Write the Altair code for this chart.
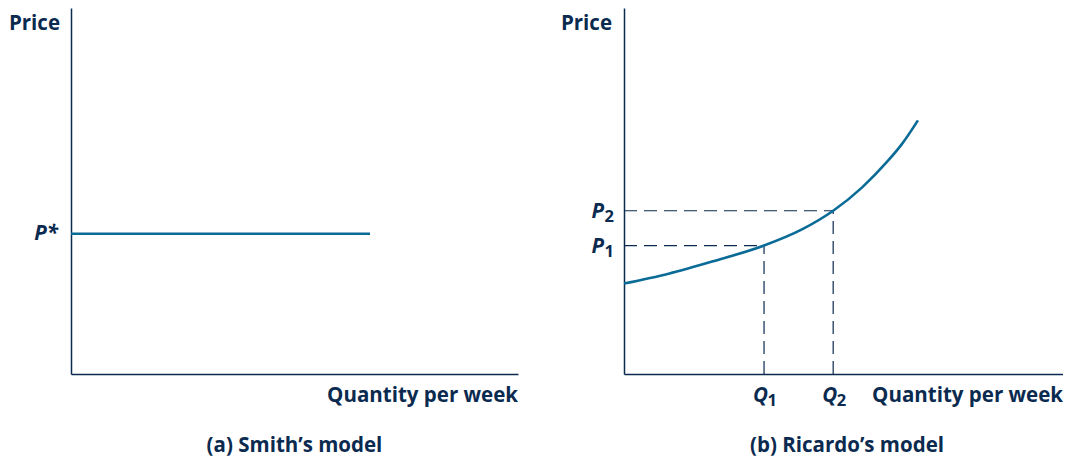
import altair as alt
import pandas as pd

# ---- data ----
smith_price = 38.3          # P*
smith_q_end = 66.9          # end of the horizontal supply line

ricardo_q = [0.0, 10.0, 20.0, 31.4, 39.9, 46.9, 53.4, 59.0, 62.3, 65.9]
ricardo_p = [24.7, 27.4, 30.8, 35.1, 39.5, 44.6, 51.0, 58.0, 62.8, 69.3]

q_points = [31.4, 46.9]     # Q1, Q2
p_points = [35.1, 44.6]     # P1, P2
subs = ["1", "2"]

axis_title_y = "Price"
axis_title_x = "Quantity per week"
panel_titles = ["(a) Smith\u2019s model", "(b) Ricardo\u2019s model"]

# ---- styling ----
TXT = "#0b2a4f"
CURVE = "#0a6b96"
FONT = "Open Sans"
FS = 20.5
SUBFS = 16.5
WL, WR, H = 447, 439, 366

ys = alt.Scale(domain=[0, 100], nice=False, zero=False)
AX = dict(labels=False, ticks=False, grid=False, title=None,
          domainColor=TXT, domainWidth=1.5)


def make_x(xmax):
    xs = alt.Scale(domain=[0, xmax], nice=False, zero=False)
    return xs, (lambda f: alt.X(f, type="quantitative", scale=xs, axis=alt.Axis(**AX)))


Y = lambda f: alt.Y(f, type="quantitative", scale=ys, axis=alt.Axis(**AX))


def txt(X, df, **kw):
    base = dict(font=FONT, fontSize=FS, fontWeight="bold", color=TXT)
    base.update(kw)
    return alt.Chart(df).mark_text(**base).encode(
        x=X("x"), y=Y("y"), text="t:N")


def common_labels(X, xmax, title, price_dx):
    price = txt(X, pd.DataFrame({"x": [0], "y": [100], "t": [axis_title_y]}),
                align="right", baseline="top", dx=price_dx, dy=6)
    qty = txt(X, pd.DataFrame({"x": [xmax], "y": [0], "t": [axis_title_x]}),
              align="right", baseline="alphabetic", dy=28)
    ttl = txt(X, pd.DataFrame({"x": [50], "y": [0], "t": [title]}),
              align="center", baseline="alphabetic", dy=78)
    return [price, qty, ttl]


# ---- panel (a) ----
xl_max = 100
xsl, XL = make_x(xl_max)
smith_df = pd.DataFrame({"x": [0, smith_q_end], "y": [smith_price, smith_price]})
smith_line = alt.Chart(smith_df).mark_line(color=CURVE, strokeWidth=2.6).encode(
    x=XL("x"), y=Y("y"))
pstar = txt(XL, pd.DataFrame({"x": [0], "y": [smith_price], "t": ["P*"]}),
            align="right", baseline="middle", dx=-13, fontStyle="italic")

left = alt.layer(smith_line, pstar,
                 *common_labels(XL, xl_max, panel_titles[0], -11)).properties(
    width=WL, height=H)

# ---- panel (b) ----
xr_max = round(100 * WR / 446, 2)
xsr, XR = make_x(xr_max)
curve_df = pd.DataFrame({"x": ricardo_q, "y": ricardo_p})
curve = alt.Chart(curve_df).mark_line(color=CURVE, strokeWidth=2.6,
                                      interpolate="monotone").encode(
    x=XR("x"), y=Y("y"))

pts = pd.DataFrame({"q": q_points, "p": p_points, "zero": [0, 0], "s": subs})
hdash = alt.Chart(pts).mark_rule(color=TXT, strokeWidth=1.2, strokeDash=[13, 7]).encode(
    x=XR("zero"), x2="q:Q", y=Y("p"))
vdash = alt.Chart(pts).mark_rule(color=TXT, strokeWidth=1.2, strokeDash=[13, 7]).encode(
    x=XR("q"), y=Y("zero"), y2="p:Q")

p_df = pd.DataFrame({"x": [0, 0], "y": p_points, "t": ["P", "P"]})
p_sub_df = pd.DataFrame({"x": [0, 0], "y": p_points, "t": subs})
q_df = pd.DataFrame({"x": q_points, "y": [0, 0], "t": ["Q", "Q"]})
q_sub_df = pd.DataFrame({"x": q_points, "y": [0, 0], "t": subs})

p_lab = txt(XR, p_df, align="right", baseline="alphabetic", dx=-20, dy=7, fontStyle="italic")
p_sub = txt(XR, p_sub_df, align="left", baseline="alphabetic", dx=-19.5, dy=11, fontSize=SUBFS)
q_lab = txt(XR, q_df, align="right", baseline="alphabetic", dx=4, dy=28, fontStyle="italic")
q_sub = txt(XR, q_sub_df, align="left", baseline="alphabetic", dx=3.5, dy=32, fontSize=SUBFS)

right = alt.layer(hdash, vdash, curve, p_lab, p_sub, q_lab, q_sub,
                  *common_labels(XR, xr_max, panel_titles[1], -12)).properties(
    width=WR, height=H)

chart = alt.hconcat(left, right, spacing=42, bounds="full").properties(
    padding={"left": 0, "top": 0, "right": 0, "bottom": 0},
    background="white",
).configure_view(stroke=None, strokeWidth=0)

chart.save("out.html", embed_options={"renderer": "svg", "actions": False})
